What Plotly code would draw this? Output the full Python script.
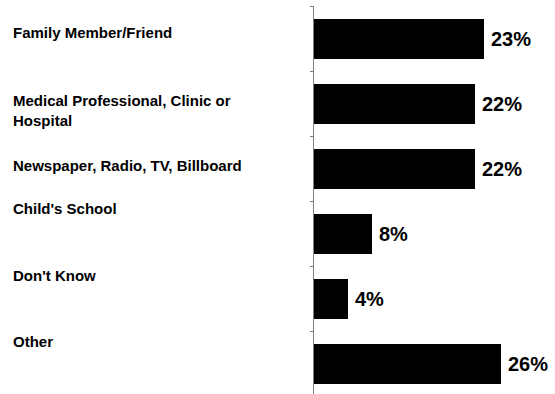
import plotly.graph_objects as go

categories = ["Family Member/Friend",
              "Medical Professional, Clinic or<br>Hospital",
              "Newspaper, Radio, TV, Billboard",
              "Child's School",
              "Don't Know",
              "Other"]
values = [23.3, 22.0, 22.0, 8.0, 4.6, 25.6]
value_labels = ["23%", "22%", "22%", "8%", "4%", "26%"]

W, H = 555, 394
ML, MT = 314, 6
PW, PH = W - ML, H - MT
BAND = 65.0
units = PH / BAND

# label vertical centers (pixels) as placed in the reference
label_y_px = [32.5, 111, 165, 208.5, 275, 341.7]

font_family = "Arial, Liberation Sans, sans-serif"

fig = go.Figure(go.Bar(
    y=list(range(len(categories))),
    x=values,
    orientation="h",
    marker=dict(color="#000000", line=dict(width=0)),
    width=40 / BAND,
    hoverinfo="skip",
))

annotations = []
for i, (v, t) in enumerate(zip(values, value_labels)):
    annotations.append(dict(x=v, y=i, xref="x", yref="y", text="<b>%s</b>" % t,
                            showarrow=False, xanchor="left", yanchor="middle",
                            xshift=5, font=dict(size=20, color="#000", family=font_family)))
for c, ypx in zip(categories, label_y_px):
    annotations.append(dict(x=(11 - ML) / PW, y=1 - (ypx - MT) / PH, xref="paper", yref="paper",
                            text="<b>%s</b>" % c, showarrow=False, xanchor="left",
                            yanchor="middle", align="left",
                            font=dict(size=15, color="#000", family=font_family)))

fig.update_layout(
    width=W, height=H,
    margin=dict(l=ML, r=0, t=MT, b=0, autoexpand=False),
    paper_bgcolor="white", plot_bgcolor="white",
    showlegend=False,
    bargap=0,
    xaxis=dict(range=[0, PW / 7.3], visible=False, fixedrange=True),
    yaxis=dict(range=[-0.5 + units, -0.5], type="linear",
               showline=True, linecolor="#808080", linewidth=1,
               ticks="outside", ticklen=3, tickcolor="#808080", tickwidth=1,
               tickvals=[i - 0.5 for i in range(len(categories) + 1)],
               showticklabels=False, showgrid=False, zeroline=False, fixedrange=True),
    annotations=annotations,
)

fig.write_html("out.html", config={"displayModeBar": False})
